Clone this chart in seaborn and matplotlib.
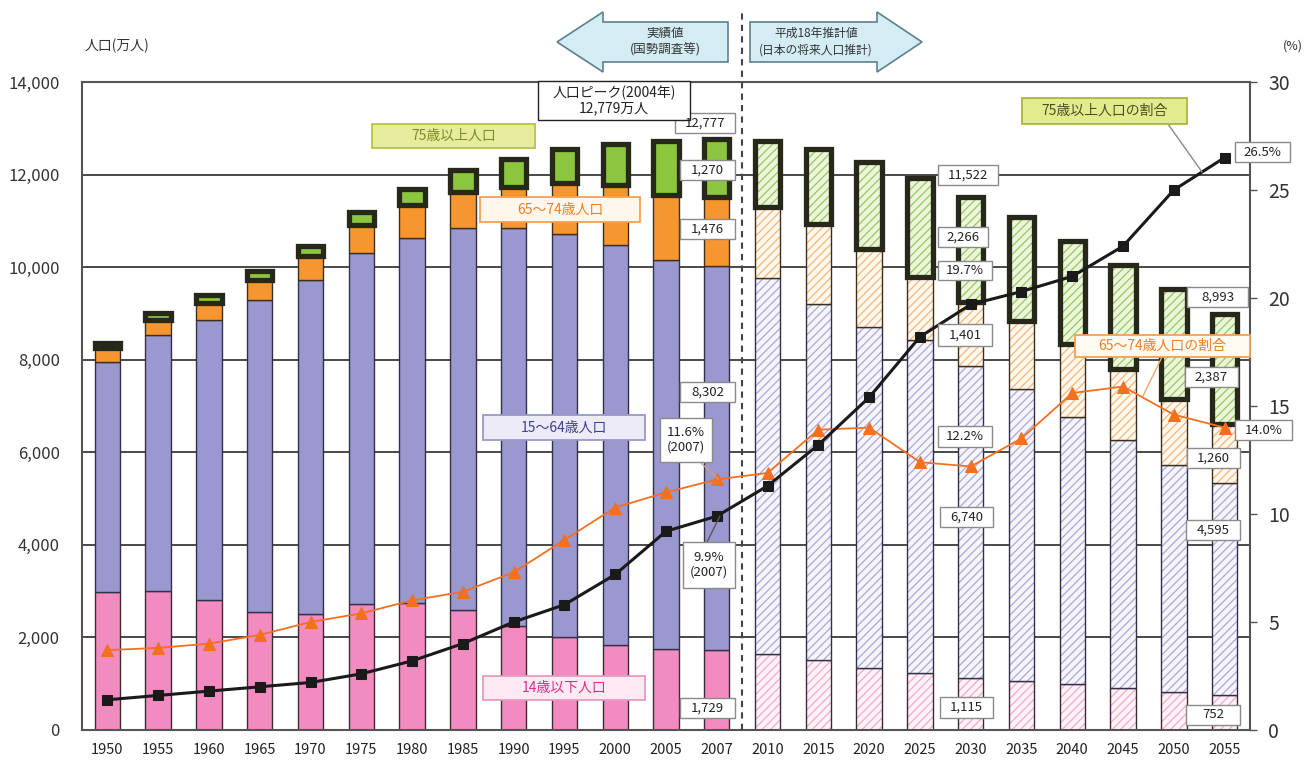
import numpy as np
import pandas as pd
import matplotlib.pyplot as plt
import seaborn as sns
from matplotlib.patches import Polygon, Rectangle
from matplotlib.lines import Line2D

# data (万人)
years = ['1950', '1955', '1960', '1965', '1970', '1975', '1980', '1985', '1990', '1995',
         '2000', '2005', '2007', '2010', '2015', '2020', '2025', '2030', '2035', '2040',
         '2045', '2050', '2055']
period = ['hist'] * 13 + ['proj'] * 10
pop_0_14 = [2979, 3012, 2807, 2553, 2515, 2722, 2751, 2603, 2249, 2001, 1847, 1752, 1729,
            1648, 1517, 1339, 1230, 1115, 1058, 994, 907, 821, 752]
pop_15_64 = [4966, 5517, 6047, 6744, 7212, 7581, 7883, 8251, 8590, 8716, 8622, 8409, 8302,
             8128, 7681, 7365, 7193, 6740, 6310, 5770, 5350, 4900, 4595]
pop_65_74 = [309, 338, 376, 434, 516, 603, 699, 776, 892, 1109, 1301, 1407, 1476,
             1517, 1730, 1690, 1360, 1401, 1470, 1580, 1540, 1440, 1260]
pop_75 = [107, 139, 164, 189, 224, 284, 366, 471, 597, 717, 900, 1160, 1270,
          1424, 1615, 1880, 2140, 2266, 2240, 2225, 2250, 2370, 2387]
# ratios (%)
ratio_75 = [1.4, 1.6, 1.8, 2.0, 2.2, 2.6, 3.2, 4.0, 5.0, 5.8, 7.2, 9.2, 9.9,
            11.3, 13.2, 15.4, 18.2, 19.7, 20.3, 21.0, 22.4, 25.0, 26.5]
ratio_65_74 = [3.7, 3.8, 4.0, 4.4, 5.0, 5.4, 6.0, 6.4, 7.3, 8.8, 10.3, 11.0, 11.6,
               11.9, 13.9, 14.0, 12.4, 12.2, 13.5, 15.6, 15.9, 14.6, 14.0]

df = pd.DataFrame({'year': years, 'period': period, 'p0': pop_0_14, 'p1': pop_15_64,
                   'p2': pop_65_74, 'p3': pop_75})
df['b0'] = 0
df['b1'] = df['p0']
df['b2'] = df['p0'] + df['p1']
df['b3'] = df['b2'] + df['p2']

sns.set_theme(style='white')
plt.rcParams['font.family'] = ['Noto Sans CJK JP', 'DejaVu Sans']
plt.rcParams['hatch.linewidth'] = 0.9

W, H = 1312, 763
fig = plt.figure(figsize=(W / 100, H / 100), dpi=100)
ax = fig.add_axes([82 / W, 33 / H, 1168 / W, 648 / H])


def fx(x):
    return x / W


def fy(y):
    return 1 - y / H


def boxed(x0, y0, x1, y1, s, tc='#222222', fc='white', ec='#8a8a8a', size=9.5, lw=1):
    fig.add_artist(Rectangle((fx(x0), fy(y1)), (x1 - x0) / W, (y1 - y0) / H,
                             transform=fig.transFigure, facecolor=fc, edgecolor=ec,
                             lw=lw, zorder=2.5))
    fig.text(fx((x0 + x1) / 2), fy((y0 + y1) / 2), s, ha='center', va='center',
             fontsize=size, color=tc, linespacing=1.15, zorder=3)


# (value col, bottom col, hist face, proj face, proj hatch, outline, outline width)
layers = [
    ('p0', 'b0', '#F28BBF', '#FFF3F8', '#F2A9CC', '#3b2b36', 1.0),
    ('p1', 'b1', '#9B97CF', '#F6F5FB', '#ABA8D8', '#33304a', 1.0),
    ('p2', 'b2', '#F7962E', '#FFF8EE', '#F5B873', '#3b3020', 1.0),
    ('p3', 'b3', '#8CC63F', '#EDF6DC', '#95C95A', '#28281a', 3.8),
]
for col, base, hface, pface, phatch, ec, lw in layers:
    hist = df[df['period'] == 'hist']
    sns.barplot(data=hist, x='year', y=col, order=years, bottom=hist[base].values,
                color=hface, edgecolor=ec, linewidth=lw, width=0.5, saturation=1,
                errorbar=None, ax=ax, zorder=2)
    proj = df[df['period'] == 'proj']
    sns.barplot(data=proj, x='year', y=col, order=years, bottom=proj[base].values,
                color=pface, edgecolor=phatch, hatch='////', linewidth=0, width=0.5,
                saturation=1, errorbar=None, ax=ax, zorder=2)
    sns.barplot(data=proj, x='year', y=col, order=years, bottom=proj[base].values,
                color=ec, fill=False, linewidth=lw, width=0.5, errorbar=None, ax=ax, zorder=2)

ax.set_xlim(-0.5, 22.5)
ax.set_ylim(0, 14000)
ax.set_yticks(range(0, 14001, 2000))
ax.set_yticklabels([f'{v:,}' for v in range(0, 14001, 2000)], fontsize=12, color='#333333')
ax.set_xticks(range(len(years)))
ax.set_xticklabels(years, fontsize=10.5, color='#222222')
ax.set_xticks(np.arange(0.5, len(years) - 1, 1), minor=True)
ax.tick_params(axis='x', which='major', length=0, pad=9)
ax.tick_params(axis='x', which='minor', direction='in', length=4, width=1, color='#333333')
ax.tick_params(axis='y', length=0, pad=16)
ax.set_xlabel('')
ax.set_ylabel('')
ax.yaxis.grid(True, color='#3a3a3a', lw=1.3)
ax.set_axisbelow(True)
for s in ax.spines.values():
    s.set_color('#555555')
    s.set_linewidth(1.5)

# dashed divider between actual and projected
ax.axvline(12.5, ymin=0, ymax=1.11, clip_on=False, color='#444444', lw=1.5,
           ls=(0, (3, 2.5)), zorder=3)

# ratio lines on the right axis
ax2 = ax.twinx()
xpos = np.arange(len(years))
sns.lineplot(x=xpos, y=ratio_65_74, ax=ax2, color='#F37021', lw=1.3, marker='^',
             markersize=8, markeredgecolor='#F37021')
sns.lineplot(x=xpos, y=ratio_75, ax=ax2, color='#1a1a1a', lw=2.2, marker='s',
             markersize=6.5, markeredgecolor='#1a1a1a')
ax2.set_ylim(0, 30)
ax2.set_xlim(-0.5, 22.5)
ax2.set_yticks(range(0, 31, 5))
ax2.set_yticklabels([str(v) for v in range(0, 31, 5)], fontsize=14, color='#333333')
ax2.tick_params(axis='y', direction='out', length=5, width=1, color='#555555', pad=8)
ax2.grid(False)
for s in ax2.spines.values():
    s.set_visible(False)

# axis titles
fig.text(fx(85), fy(46), '人口(万人)', fontsize=10, color='#333333', va='center')
fig.text(fx(1283), fy(46), '(%)', fontsize=9, color='#333333', va='center')

# period arrows
left_arrow = [(557, 42), (603, 12), (603, 22), (728, 22), (728, 62), (603, 62), (603, 72)]
right_arrow = [(750, 22), (877, 22), (877, 12), (922, 42), (877, 72), (877, 62), (750, 62)]
for pts in (left_arrow, right_arrow):
    fig.add_artist(Polygon([(fx(x), fy(y)) for x, y in pts], closed=True,
                           transform=fig.transFigure, facecolor='#D4ECF3',
                           edgecolor='#5d8190', lw=1.2))
fig.text(fx(665), fy(42), '実績値\n(国勢調査等)', ha='center', va='center', fontsize=9,
         color='#333333', linespacing=1.3)
fig.text(fx(816), fy(42), '平成18年推計値\n(日本の将来人口推計)', ha='center', va='center',
         fontsize=8.5, color='#333333', linespacing=1.35)

# connector lines
connectors = [((1168, 124), (1202, 172), '#8a8a8a'),
              ((1162, 357), (1143, 396), '#F5A66A'),
              ((700, 462), (718, 479), '#c9a27e'),
              ((707, 542), (720, 516), '#555555')]
for (x0, y0), (x1, y1), c in connectors:
    fig.add_artist(Line2D([fx(x0), fx(x1)], [fy(y0), fy(y1)], color=c, lw=1))

# category labels
legend_boxes = [
    ((372, 124, 535, 148), '75歳以上人口', '#7a8a28', '#E6EC9C', '#b9c24a'),
    ((480, 197, 640, 222), '65〜74歳人口', '#F07F1F', '#FFF7EC', '#F5A050'),
    ((483, 415, 645, 440), '15〜64歳人口', '#3f3e99', '#ECEBF7', '#9a98c9'),
    ((483, 676, 645, 700), '14歳以下人口', '#E3298A', '#FDEAF3', '#e79ac2'),
    ((1022, 98, 1187, 124), '75歳以上人口の割合', '#4a5020', '#E3EC8C', '#a9b540'),
    ((1075, 335, 1250, 357), '65〜74歳人口の割合', '#F07F1F', '#FFF9F0', '#F5A050'),
]
for (x0, y0, x1, y1), s, tc, fc, ec in legend_boxes:
    boxed(x0, y0, x1, y1, s, tc=tc, fc=fc, ec=ec, size=10, lw=1.3)

# value callouts
callouts = [
    ((675, 113, 735, 133), '12,777'), ((680, 160, 735, 180), '1,270'),
    ((680, 219, 735, 239), '1,476'), ((680, 382, 735, 402), '8,302'),
    ((660, 418, 712, 462), '11.6%\n(2007)'), ((683, 542, 735, 588), '9.9%\n(2007)'),
    ((680, 698, 735, 718), '1,729'),
    ((938, 165, 998, 185), '11,522'), ((938, 227, 988, 247), '2,266'),
    ((938, 261, 992, 280), '19.7%'), ((938, 324, 992, 346), '1,401'),
    ((938, 426, 992, 447), '12.2%'), ((940, 507, 993, 527), '6,740'),
    ((940, 697, 993, 718), '1,115'),
    ((1235, 142, 1290, 162), '26.5%'), ((1187, 287, 1248, 307), '8,993'),
    ((1185, 367, 1238, 387), '2,387'), ((1235, 420, 1292, 440), '14.0%'),
    ((1187, 448, 1240, 468), '1,260'), ((1186, 520, 1240, 540), '4,595'),
    ((1186, 705, 1240, 725), '752'),
]
for (x0, y0, x1, y1), s in callouts:
    boxed(x0, y0, x1, y1, s)
boxed(538, 81, 690, 120, '人口ピーク(2004年)\n12,779万人', ec='#222222', size=10)

fig.savefig('out.png', dpi=100)
